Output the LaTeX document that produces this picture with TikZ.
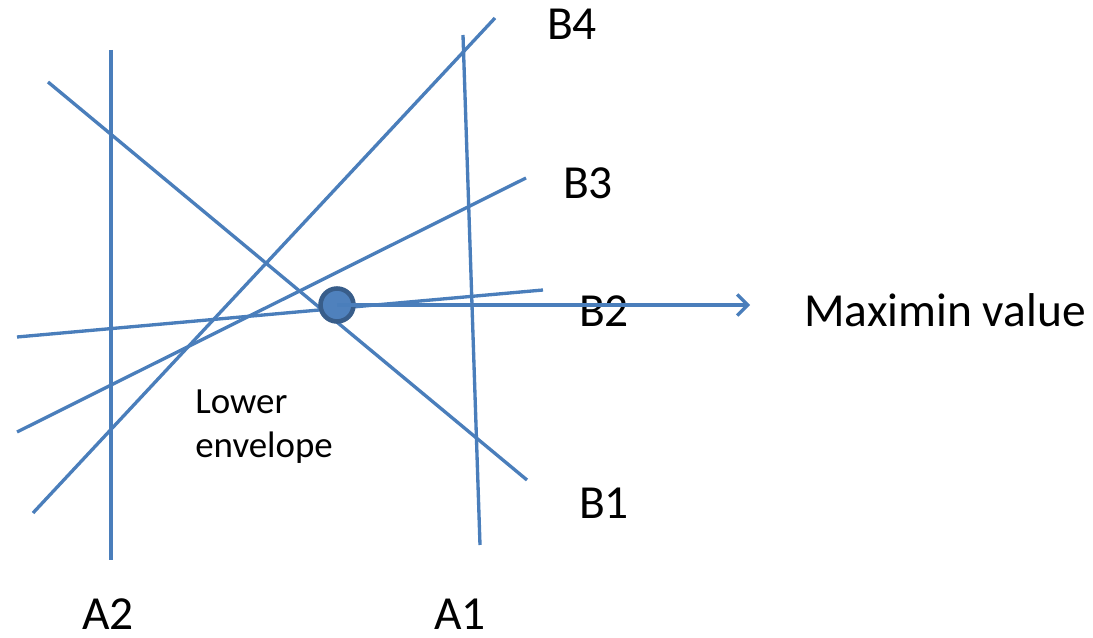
\documentclass[tikz,border=0pt]{standalone}
\usepackage{fontspec}
\setmainfont{Carlito}
\usetikzlibrary{arrows.meta}
\begin{document}
\begin{tikzpicture}[x=0.02cm, y=-0.02cm]
    % Define colours
    \definecolor{lineColour}{HTML}{4A7EBB}
    \definecolor{dotFill}{HTML}{4F81BD}
    \definecolor{dotBorder}{HTML}{385D8A}

    % Styles
    \tikzset{
        strategy/.style={draw=lineColour, line width=1.9pt},
        label/.style={font=\fontsize{27}{32}\selectfont, anchor=base, inner sep=0pt},
    }

    % Fix the page size
    \useasboundingbox (0,0) rectangle (1093,638);

    % End points of the strategy lines
    \coordinate (A2top) at (111,50);
    \coordinate (A2bot) at (111,560);
    \coordinate (A1top) at (463,35);
    \coordinate (A1bot) at (480,545);
    \coordinate (B4bot) at (33,513);
    \coordinate (B4top) at (495,18);
    \coordinate (B1top) at (48,82);
    \coordinate (B1bot) at (527,480);
    \coordinate (B3bot) at (17,432);
    \coordinate (B3top) at (526,178);
    \coordinate (B2lft) at (17,337);
    \coordinate (B2rgt) at (543,290);

    % Draw the strategy lines
    \draw[strategy] (A2top) -- (A2bot);
    \draw[strategy] (A1top) -- (A1bot);
    \draw[strategy] (B4bot) -- (B4top);
    \draw[strategy] (B1top) -- (B1bot);
    \draw[strategy] (B3bot) -- (B3top);
    \draw[strategy] (B2lft) -- (B2rgt);

    % Labels of the lines
    \node[label] (labB4) at (572,40) {B4};
    \node[label] (labB3) at (588,199) {B3};
    \node[label] (labB2) at (604,327) {B2};
    \node[label] (labB1) at (604,519) {B1};
    \node[label] (labA2) at (108,630) {A2};
    \node[label] (labA1) at (460,630) {A1};
    \node[label] (maximin) at (945,327) {Maximin value};

    % Maximin point and arrow
    \node[circle, fill=dotFill, draw=dotBorder, line width=2.6pt,
          minimum size=0.66cm, inner sep=0pt] (dot) at (337,305) {};
    \draw[strategy, -{Straight Barb[length=6pt, width=12pt]}]
        (dot.center) -- (750,305) coordinate (tip);

    % Lower envelope label
    \node[align=left, anchor=west, inner sep=0pt,
          font=\fontsize{21}{25}\selectfont] (envelope) at (195,427)
        {Lower\\envelope};
\end{tikzpicture}
\end{document}
